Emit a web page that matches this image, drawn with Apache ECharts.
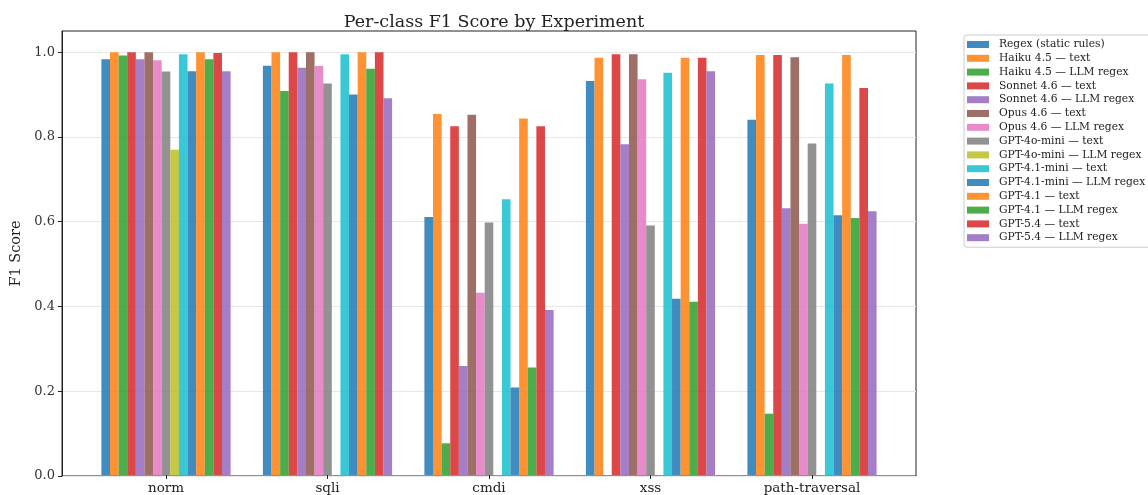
<!DOCTYPE html>
<html>
<head>
<meta charset="utf-8">
<script src="https://cdn.jsdelivr.net/npm/echarts@6/dist/echarts.min.js"></script>
<style>html,body{margin:0;padding:0;background:#fff}#c{width:1148px;height:495px}</style>
</head>
<body>
<div id="c"></div>
<script>
const categories = ['norm', 'sqli', 'cmdi', 'xss', 'path-traversal'];
const seriesNames = [
  'Regex (static rules)', 'Haiku 4.5 — text', 'Haiku 4.5 — LLM regex',
  'Sonnet 4.6 — text', 'Sonnet 4.6 — LLM regex', 'Opus 4.6 — text',
  'Opus 4.6 — LLM regex', 'GPT-4o-mini — text', 'GPT-4o-mini — LLM regex',
  'GPT-4.1-mini — text', 'GPT-4.1-mini — LLM regex', 'GPT-4.1 — text',
  'GPT-4.1 — LLM regex', 'GPT-5.4 — text', 'GPT-5.4 — LLM regex'
];
const regexStatic      = [0.983, 0.968, 0.610, 0.932, 0.840];
const haikuText        = [1.000, 1.000, 0.854, 0.987, 0.993];
const haikuLlm         = [0.992, 0.908, 0.075, 0.000, 0.145];
const sonnetText       = [1.000, 1.000, 0.825, 0.995, 0.993];
const sonnetLlm        = [0.983, 0.963, 0.258, 0.782, 0.631];
const opusText         = [1.000, 1.000, 0.852, 0.995, 0.988];
const opusLlm          = [0.981, 0.967, 0.431, 0.936, 0.594];
const gpt4oMiniText    = [0.954, 0.926, 0.597, 0.590, 0.784];
const gpt4oMiniLlm     = [0.769, 0.000, 0.000, 0.000, 0.000];
const gpt41MiniText    = [0.995, 0.995, 0.652, 0.951, 0.926];
const gpt41MiniLlm     = [0.955, 0.900, 0.207, 0.417, 0.614];
const gpt41Text        = [1.000, 1.000, 0.843, 0.987, 0.993];
const gpt41Llm         = [0.983, 0.961, 0.254, 0.410, 0.608];
const gpt54Text        = [0.998, 1.000, 0.825, 0.987, 0.915];
const gpt54Llm         = [0.955, 0.891, 0.390, 0.955, 0.624];
const yTicks = [0, 0.2, 0.4, 0.6, 0.8, 1.0];

const seriesValues = [regexStatic, haikuText, haikuLlm, sonnetText, sonnetLlm, opusText, opusLlm,
  gpt4oMiniText, gpt4oMiniLlm, gpt41MiniText, gpt41MiniLlm, gpt41Text, gpt41Llm, gpt54Text, gpt54Llm];
const palette = ['#1f77b4', '#ff7f0e', '#2ca02c', '#d62728', '#9467bd', '#8c564b', '#e377c2',
  '#7f7f7f', '#bcbd22', '#17becf', '#1f77b4', '#ff7f0e', '#2ca02c', '#d62728', '#9467bd'];

const FONT = 'DejaVu Serif';
const chart = echarts.init(document.getElementById('c'), null, {renderer: 'canvas'});
const YMAX = 1.05;

chart.setOption({
  animation: false,
  backgroundColor: '#fff',
  textStyle: {fontFamily: FONT},
  title: {
    text: 'Per-class F1 Score by Experiment',
    left: 489, top: 8, textAlign: 'center',
    textStyle: {fontFamily: FONT, fontSize: 17.5, fontWeight: 'normal', color: '#222'}
  },
  legend: {
    orient: 'vertical',
    left: 964, top: 35,
    padding: [4, 12, 4, 3],
    itemWidth: 22, itemHeight: 7, itemGap: 2.8,
    borderColor: '#cccccc', borderWidth: 1, borderRadius: 3,
    icon: 'rect',
    data: seriesNames,
    textStyle: {fontFamily: FONT, fontSize: 10.7, color: '#222', lineHeight: 10, padding: [0, 0, 0, 5]}
  },
  grid: [
    {left: 62, right: 232, top: 31, bottom: 19, show: true, borderColor: '#222', borderWidth: 1, containLabel: false},
    {left: 85.25, width: 807.5, top: 31, bottom: 19, containLabel: false}
  ],
  xAxis: [
    {gridIndex: 0, type: 'value', min: 0, max: 1, show: false},
    {
      gridIndex: 1, type: 'category', data: categories,
      axisLine: {show: false},
      axisTick: {show: true, alignWithLabel: true, length: 4, lineStyle: {color: '#222'}},
      axisLabel: {fontFamily: FONT, fontSize: 13.5, color: '#222', margin: 6}
    }
  ],
  yAxis: [
    {
      gridIndex: 0, type: 'value', min: 0, max: YMAX, interval: 0.2,
      name: 'F1 Score', nameLocation: 'middle', nameGap: 38, nameRotate: 90,
      nameTextStyle: {fontFamily: FONT, fontSize: 14.5, color: '#222'},
      axisLine: {show: true, lineStyle: {color: '#222'}},
      axisTick: {show: true, length: 4, lineStyle: {color: '#222'}, customValues: yTicks},
      axisLabel: {fontFamily: FONT, fontSize: 13, color: '#333', margin: 7, customValues: yTicks,
        formatter: v => v.toFixed(1)},
      splitLine: {show: true, lineStyle: {color: '#e8e8e8', width: 1}}
    },
    {gridIndex: 1, type: 'value', min: 0, max: YMAX, show: false}
  ],
  series: seriesNames.map((name, i) => ({
    name, type: 'bar', xAxisIndex: 1, yAxisIndex: 1,
    data: seriesValues[i],
    barGap: '0%', barCategoryGap: '20%',
    itemStyle: {color: palette[i], opacity: 0.85}
  }))
});
</script>
</body>
</html>
